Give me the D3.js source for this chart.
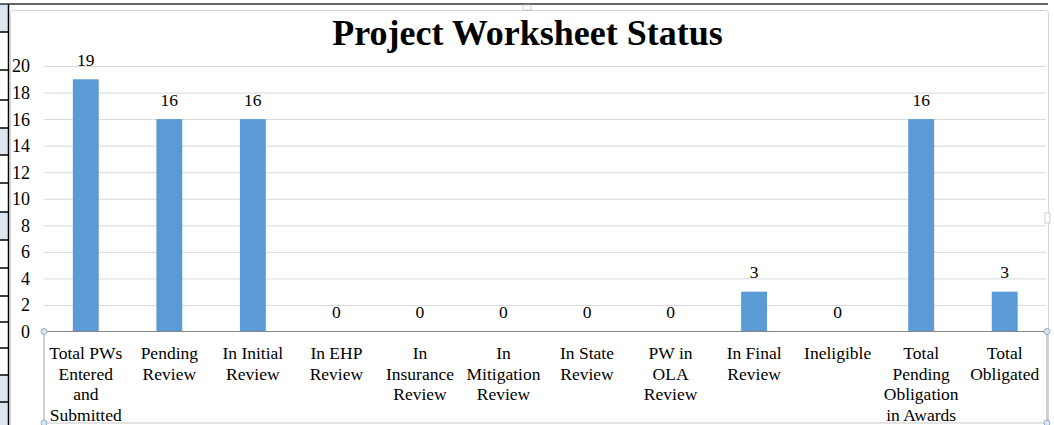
<!DOCTYPE html>
<html>
<head>
    <meta charset="utf-8">
    <style>
        body { margin: 0; background: #fff; }
        svg { display: block; font-family: 'Liberation Serif', 'Times New Roman', serif; }
        .title { font-weight: bold; font-size: 36px; fill: #000; }
        .ytick text { font-family: 'Liberation Serif', 'Times New Roman', serif; font-size: 18px; fill: #000; }
        .cat { font-size: 17.5px; fill: #000; }
        .val { font-size: 17.5px; fill: #000; }
    </style>
    <title>Project Worksheet Status</title>
</head>
<body>
<svg width="1054" height="425"></svg>
<script src="https://d3js.org/d3.v7.min.js"></script>
<script>
    let categories = ['Total PWs Entered and Submitted', 'Pending Review', 'In Initial Review', 'In EHP Review',
        'In Insurance Review', 'In Mitigation Review', 'In State Review', 'PW in OLA Review',
        'In Final Review', 'Ineligible', 'Total Pending Obligation in Awards', 'Total Obligated']
    let values = [19, 16, 16, 0, 0, 0, 0, 0, 3, 0, 16, 3]
    let yTicks = [0, 2, 4, 6, 8, 10, 12, 14, 16, 18, 20]

    let width = 1054
    let height = 425
    let svg = d3.select('svg')

    // spreadsheet bits around the chart
    let rowLines = [32, 70, 100, 128, 155, 183, 212, 240, 268, 296, 322, 348, 375, 402]
    let blueRows = [[4, 32], [128, 155], [212, 240], [375, 425]]
    svg.append('g').selectAll('rect').data(blueRows).join('rect')
        .attr('x', 0).attr('y', d => d[0]).attr('width', 8).attr('height', d => d[1] - d[0])
        .attr('fill', '#dce6f1')
    svg.append('g').selectAll('line').data(rowLines).join('line')
        .attr('x1', 0).attr('x2', 9).attr('y1', d => d).attr('y2', d => d)
        .attr('stroke', '#000').attr('stroke-width', 1.5)
    svg.append('line').attr('x1', 8.5).attr('x2', 8.5).attr('y1', 4).attr('y2', height)
        .attr('stroke', '#000').attr('stroke-width', 1.5)
    svg.append('line').attr('x1', 0).attr('x2', 1048).attr('y1', 4).attr('y2', 4)
        .attr('stroke', '#333').attr('stroke-width', 1.5)

    // chart frame
    svg.append('rect').attr('x', 10.5).attr('y', 10.5).attr('width', 1038).attr('height', 420)
        .attr('rx', 3).attr('fill', '#fff').attr('stroke', '#d4d4d4')
    svg.append('rect').attr('x', 523).attr('y', 5).attr('width', 8).attr('height', 5)
        .attr('fill', '#fff').attr('stroke', '#bbb').attr('stroke-width', 0.7)
    svg.append('rect').attr('x', 1045).attr('y', 213).attr('width', 5).attr('height', 10)
        .attr('fill', '#fff').attr('stroke', '#bbb').attr('stroke-width', 0.7)

    svg.append('text').attr('class', 'title')
        .attr('x', 527.5).attr('y', 45).attr('text-anchor', 'middle')
        .text('Project Worksheet Status')

    let x = d3.scaleBand()
        .domain(categories)
        .range([44, 1046.5])
        .paddingInner(0.69)
        .paddingOuter(0.345)

    let y = d3.scaleLinear()
        .domain([0, 20])
        .range([331.5, 66])

    // gridlines + y labels
    let yAxis = svg.append('g')
        .attr('class', 'ytick')
        .attr('transform', 'translate(44,0)')
        .call(d3.axisLeft(y).tickValues(yTicks).tickSize(-1002).tickPadding(14).tickFormat(d3.format('d')))
    yAxis.select('.domain').remove()
    yAxis.selectAll('.tick line').attr('stroke', '#d9d9d9')
    yAxis.selectAll('.tick').filter(d => d === 0).select('line').remove()
    yAxis.selectAll('.tick text').attr('dy', '0.33em')

    // bars
    svg.append('g').selectAll('rect').data(values).join('rect')
        .attr('x', (d, i) => x(categories[i]))
        .attr('width', x.bandwidth())
        .attr('y', d => y(d))
        .attr('height', d => y(0) - y(d))
        .attr('fill', '#5b9bd5')

    // value labels
    svg.append('g').selectAll('text').data(values).join('text')
        .attr('class', 'val')
        .attr('x', (d, i) => x(categories[i]) + x.bandwidth() / 2)
        .attr('y', d => y(d) - 13.5)
        .attr('text-anchor', 'middle')
        .text(d => d)

    // x axis line and selection box
    svg.append('line').attr('x1', 44).attr('x2', 1047).attr('y1', 331.5).attr('y2', 331.5)
        .attr('stroke', '#868686')
    let box = [[44, 331.5], [1047, 331.5], [44, 423], [1047, 423]]
    svg.append('line').attr('x1', 44).attr('x2', 44).attr('y1', 331.5).attr('y2', 423).attr('stroke', '#a0a0a0')
    svg.append('line').attr('x1', 1047).attr('x2', 1047).attr('y1', 331.5).attr('y2', 423).attr('stroke', '#a0a0a0')
    svg.append('line').attr('x1', 44).attr('x2', 1047).attr('y1', 423).attr('y2', 423).attr('stroke', '#c8c8c8')
    svg.append('g').selectAll('circle').data(box).join('circle')
        .attr('cx', d => d[0]).attr('cy', d => d[1]).attr('r', 3)
        .attr('fill', '#dbe5f1').attr('stroke', '#7f9fc0').attr('stroke-width', 0.8)

    // category labels, wrapped to the band
    let catG = svg.append('g')
    categories.forEach(function (c, i) {
        let t = catG.append('text').attr('class', 'cat')
            .attr('x', x(c) + x.bandwidth() / 2).attr('y', 359).attr('text-anchor', 'middle')
        let words = c.split(' ')
        let lines = []
        let cur = []
        words.forEach(function (w) {
            let test = cur.concat([w]).join(' ')
            t.text(test)
            if (t.node().getComputedTextLength() > 76 && cur.length) {
                lines.push(cur.join(' '))
                cur = [w]
            } else {
                cur.push(w)
            }
        })
        lines.push(cur.join(' '))
        t.text(null)
        lines.forEach(function (l, j) {
            t.append('tspan').attr('x', x(c) + x.bandwidth() / 2).attr('y', 359 + j * 20.7).text(l)
        })
    })
</script>
</body>
</html>
